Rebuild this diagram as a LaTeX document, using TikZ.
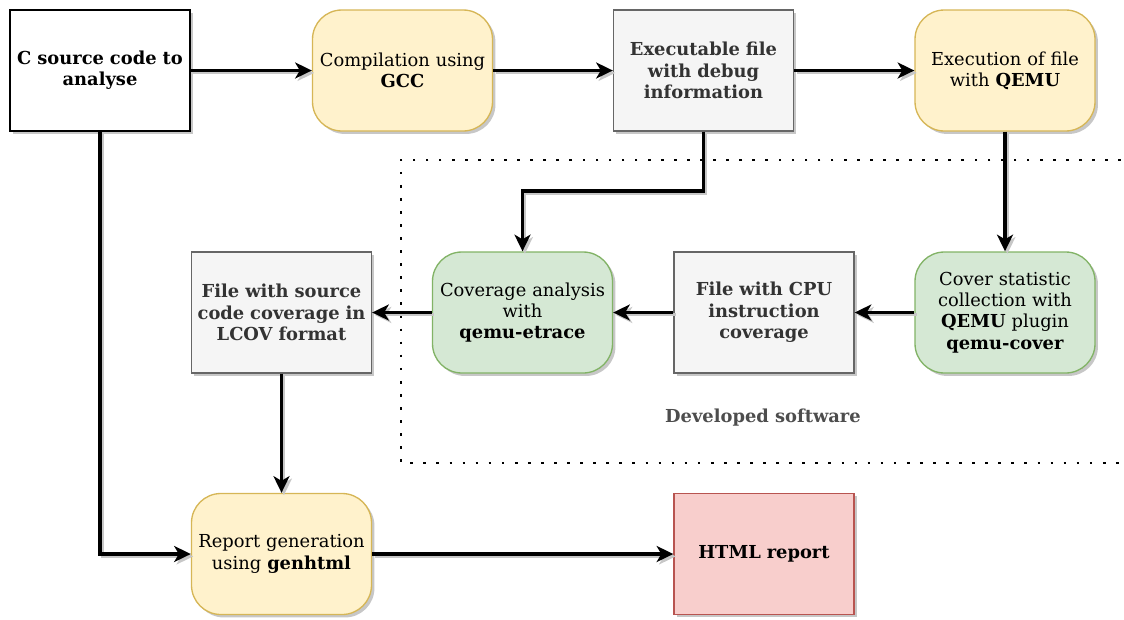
\documentclass[tikz,border=0pt]{standalone}
\usepackage{fontspec}
\setmainfont{DejaVu Serif}
\usetikzlibrary{arrows.meta,shadows}
\definecolor{yfill}{HTML}{FFF2CC}\definecolor{ydraw}{HTML}{D6B656}
\definecolor{gfill}{HTML}{F5F5F5}\definecolor{gdraw}{HTML}{666666}
\definecolor{gtext}{HTML}{333333}
\definecolor{grfill}{HTML}{D5E8D4}\definecolor{grdraw}{HTML}{82B366}
\definecolor{rfill}{HTML}{F8CECC}\definecolor{rdraw}{HTML}{B85450}
\definecolor{lbl}{HTML}{4D4D4D}
\begin{document}
\begin{tikzpicture}[x=0.75pt,y=-0.75pt,
  base/.style={minimum width=135pt,minimum height=90.75pt,inner sep=0pt,text width=134pt,align=center,
    font=\fontsize{13.4}{16}\selectfont,line width=1pt,
    drop shadow={shadow xshift=2.2pt,shadow yshift=-2.2pt,fill=black,opacity=0.22}},
  plainbox/.style={base,draw=black,fill=white,font=\fontsize{13.4}{16}\selectfont\bfseries},
  greybox/.style={base,draw=gdraw,fill=gfill,text=gtext,font=\fontsize{13.4}{16}\selectfont\bfseries},
  yellowbox/.style={base,draw=ydraw,fill=yfill,rounded corners=22pt},
  greenbox/.style={base,draw=grdraw,fill=grfill,rounded corners=22pt},
  redbox/.style={base,draw=rdraw,fill=rfill,font=\fontsize{13.4}{16}\selectfont\bfseries},
  arr/.style={line width=2.3pt,-{Stealth[length=12.5pt,width=12pt,inset=3.5pt]},
    preaction={draw=black!22,line width=2.3pt,transform canvas={shift={(1.8pt,-1.8pt)}}}},
  dotline/.style={line width=2pt,dash pattern=on 2pt off 7.8pt}
]
\useasboundingbox (0,0) rectangle (1124,619);

\node[plainbox] (src) at (100,70.5) {C source code to\\analyse};
\node[yellowbox] (comp) at (402.5,70.5) {Compilation using\\\textbf{GCC}};
\node[greybox] (exe) at (703.5,70.5) {Executable file\\with debug\\information};
\node[yellowbox] (run) at (1005,70.5) {Execution of file\\with \textbf{QEMU}};

\node[greenbox] (cov) at (522.5,312.5) {Coverage analysis\\with\\\textbf{qemu-etrace}};
\node[greybox] (cpu) at (764,312.5) {File with CPU\\instruction\\coverage};
\node[greenbox] (stat) at (1005,312.5) {Cover statistic\\collection with\\\textbf{QEMU} plugin\\\textbf{qemu-cover}};
\node[greybox] (lcov) at (281.5,312.5) {File with source\\code coverage in\\LCOV format};

\node[yellowbox] (rep) at (281.5,554) {Report generation\\using \textbf{genhtml}};
\node[redbox] (html) at (764,554) {HTML report};

% dotted region
\coordinate (dtr) at (1134,160);
\coordinate (dtl) at (401,160);
\coordinate (dbl) at (401,463);
\coordinate (dbr) at (1134,463);
\draw[dotline] (dtr) -- (dtl) -- (dbl) -- (dbr);
\node[text=lbl,font=\fontsize{13.4}{16}\selectfont\bfseries] (devlbl) at (763,418) {Developed software};

% connectors
\draw[arr] (src.east) -- (comp.west);
\draw[arr] (comp.east) -- (exe.west);
\draw[arr] (exe.east) -- (run.west);
\coordinate (bend) at (600,191);
\draw[arr] (exe.south) |- (bend) -| (cov.north);
\draw[arr] (run.south) -- (stat.north);
\draw[arr] (stat.west) -- (cpu.east);
\draw[arr] (cpu.west) -- (cov.east);
\draw[arr] (cov.west) -- (lcov.east);
\draw[arr] (lcov.south) -- (rep.north);
\draw[arr] (src.south) |- (rep.west);
\draw[arr] (rep.east) -- (html.west);
\end{tikzpicture}
\end{document}
